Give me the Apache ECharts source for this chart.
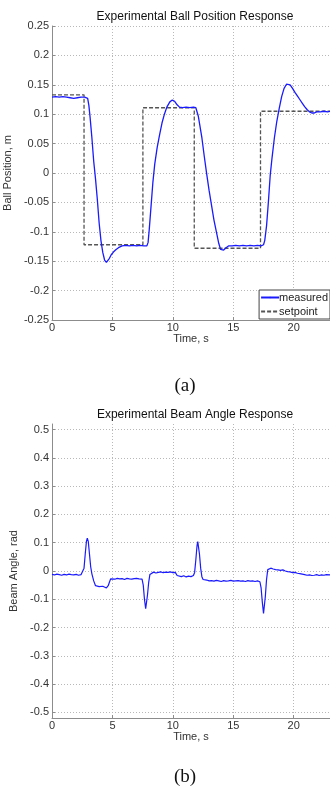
<!DOCTYPE html>
<html><head><meta charset="utf-8">
<script src="https://cdn.jsdelivr.net/npm/echarts@6/dist/echarts.min.js"></script>
<style>html,body{margin:0;padding:0;background:#fff}#c{width:330px;height:796px}</style>
</head><body><div id="c"></div>
<script>
// ---- Data ----
var xTicks = [0, 5, 10, 15, 20];
var posTicks = [-0.25, -0.2, -0.15, -0.1, -0.05, 0, 0.05, 0.1, 0.15, 0.2, 0.25];
var angTicks = [-0.5, -0.4, -0.3, -0.2, -0.1, 0, 0.1, 0.2, 0.3, 0.4, 0.5];

var ballT = [0,0.3,0.6,0.9,1.2,1.5,1.8,2.1,2.4,2.7,2.85,2.95,3.05,3.15,3.3,3.45,3.6,3.75,3.9,4.05,4.2,4.35,4.5,4.6,4.75,4.9,5.1,5.3,5.5,5.8,6.1,6.4,6.7,7.0,7.3,7.6,7.85,7.95,8.05,8.2,8.35,8.5,8.7,8.9,9.1,9.3,9.5,9.75,9.95,10.15,10.35,10.55,10.8,11.1,11.4,11.7,11.9,12.0,12.1,12.2,12.4,12.6,12.8,13.0,13.2,13.4,13.6,13.8,13.95,14.05,14.2,14.4,14.6,14.9,15.2,15.5,15.8,16.1,16.4,16.7,17.0,17.3,17.5,17.6,17.75,17.9,18.05,18.2,18.4,18.6,18.8,19.0,19.2,19.4,19.55,19.7,19.9,20.1,20.3,20.5,20.7,20.9,21.1,21.3,21.5,21.7,21.9,22.2,22.5,22.8,23];
var ballPos = [0.129,0.130,0.129,0.130,0.129,0.128,0.127,0.128,0.129,0.129,0.130,0.127,0.115,0.095,0.06,0.02,-0.01,-0.045,-0.085,-0.115,-0.135,-0.148,-0.152,-0.151,-0.145,-0.139,-0.134,-0.130,-0.127,-0.124,-0.123,-0.124,-0.123,-0.124,-0.123,-0.124,-0.124,-0.118,-0.095,-0.055,-0.015,0.015,0.043,0.065,0.085,0.1,0.112,0.121,0.124,0.122,0.116,0.112,0.111,0.112,0.111,0.112,0.111,0.108,0.097,0.085,0.06,0.028,-0.002,-0.03,-0.055,-0.08,-0.1,-0.12,-0.13,-0.132,-0.131,-0.127,-0.124,-0.124,-0.123,-0.124,-0.123,-0.124,-0.123,-0.124,-0.123,-0.124,-0.122,-0.115,-0.09,-0.05,-0.005,0.025,0.06,0.088,0.11,0.13,0.144,0.151,0.152,0.150,0.144,0.137,0.131,0.125,0.119,0.113,0.108,0.104,0.102,0.102,0.104,0.104,0.105,0.104,0.105];

var spT = [0,2.65,2.65,7.52,7.52,11.77,11.77,17.25,17.25,23];
var spV = [0.133,0.133,-0.122,-0.122,0.111,0.111,-0.128,-0.128,0.105,0.105];

var angT = [0,0.2,0.4,0.6,0.8,1.0,1.2,1.4,1.6,1.8,2.0,2.2,2.4,2.55,2.65,2.75,2.85,2.92,3.0,3.1,3.2,3.3,3.45,3.6,3.75,3.9,4.05,4.2,4.35,4.5,4.65,4.75,4.85,5.0,5.2,5.4,5.6,5.8,6.0,6.2,6.4,6.6,6.8,7.0,7.2,7.45,7.55,7.65,7.75,7.82,7.9,8.0,8.1,8.25,8.4,8.6,8.8,9.0,9.2,9.4,9.6,9.8,10.0,10.2,10.35,10.5,10.7,10.9,11.1,11.3,11.5,11.7,11.8,11.9,12.0,12.06,12.12,12.2,12.3,12.4,12.5,12.6,12.8,13.0,13.2,13.4,13.6,13.8,14.0,14.2,14.4,14.6,14.8,15.0,15.2,15.4,15.6,15.8,16.0,16.2,16.4,16.6,16.8,17.0,17.2,17.3,17.4,17.5,17.56,17.65,17.75,17.85,17.95,18.1,18.3,18.5,18.7,18.9,19.0,19.1,19.3,19.5,19.7,19.9,20.1,20.3,20.5,20.7,20.9,21.1,21.3,21.5,21.7,21.9,22.1,22.3,22.5,22.7,23];
var angV = [-0.012,-0.014,-0.011,-0.013,-0.015,-0.012,-0.014,-0.011,-0.013,-0.014,-0.012,-0.015,-0.013,-0.01,0.01,0.06,0.105,0.116,0.105,0.06,0.015,-0.01,-0.035,-0.052,-0.056,-0.055,-0.058,-0.054,-0.057,-0.06,-0.052,-0.04,-0.028,-0.027,-0.029,-0.026,-0.028,-0.027,-0.030,-0.026,-0.028,-0.029,-0.027,-0.026,-0.028,-0.029,-0.05,-0.1,-0.133,-0.13,-0.085,-0.04,-0.012,-0.006,-0.004,-0.007,-0.005,-0.003,-0.006,-0.004,-0.005,-0.003,-0.006,-0.005,-0.016,-0.018,-0.020,-0.017,-0.021,-0.018,-0.02,-0.016,-0.005,0.04,0.09,0.104,0.098,0.06,0.01,-0.02,-0.03,-0.033,-0.032,-0.035,-0.034,-0.036,-0.033,-0.035,-0.037,-0.034,-0.036,-0.035,-0.033,-0.036,-0.035,-0.034,-0.036,-0.035,-0.037,-0.034,-0.036,-0.035,-0.037,-0.035,-0.038,-0.06,-0.11,-0.15,-0.145,-0.09,-0.03,0.005,0.012,0.01,0.007,0.005,0.004,0.002,0.006,0.004,0.0,-0.002,-0.003,-0.006,-0.005,-0.008,-0.009,-0.011,-0.013,-0.015,-0.014,-0.016,-0.015,-0.013,-0.016,-0.014,-0.015,-0.013,-0.014];

function zip(a, b) { return a.map(function (t, i) { return [t, b[i]]; }); }
function fmt(v) { return String(+(+v).toFixed(2)); }

var FONT = 'Liberation Sans';
var axisTxt = { color: '#333', fontFamily: FONT, fontSize: 11 };
var split = { show: true, lineStyle: { type: [1, 2], color: '#b8b8b8', width: 1 } };
var aLine = { show: true, onZero: false, lineStyle: { color: '#8c8c8c', width: 1 } };

function xAx(gi) {
  return {
    gridIndex: gi, type: 'value', min: 0, max: 23, interval: 5,
    axisLine: aLine, splitLine: split,
    axisTick: { show: true, inside: true, length: 3, lineStyle: { color: '#8c8c8c' } },
    axisLabel: Object.assign({ margin: 2, showMaxLabel: false, formatter: fmt }, axisTxt),
    name: 'Time, s', nameLocation: 'middle', nameGap: 13,
    nameTextStyle: { color: '#333', fontFamily: FONT, fontSize: 11 }
  };
}

var chart = echarts.init(document.getElementById('c'), null, { renderer: 'canvas' });
chart.setOption({
  animation: false,
  backgroundColor: '#fff',
  title: [
    { text: 'Experimental Ball Position Response', left: 190, top: 6, textAlign: 'center',
      textStyle: { fontFamily: FONT, fontSize: 12, fontWeight: 'normal', color: '#111' } },
    { text: '(a)', left: 180, top: 372, textAlign: 'center',
      textStyle: { fontFamily: 'Liberation Serif', fontSize: 19, fontWeight: 'normal', color: '#111' } },
    { text: 'Experimental Beam Angle Response', left: 190, top: 404, textAlign: 'center',
      textStyle: { fontFamily: FONT, fontSize: 12, fontWeight: 'normal', color: '#111' } },
    { text: '(b)', left: 180, top: 763, textAlign: 'center',
      textStyle: { fontFamily: 'Liberation Serif', fontSize: 19, fontWeight: 'normal', color: '#111' } }
  ],
  legend: {
    data: ['measured', 'setpoint'], orient: 'vertical', right: 0, top: 290,
    itemWidth: 18, itemHeight: 2, itemGap: 3, padding: [2, 2, 2, 1],
    backgroundColor: '#fff', borderColor: '#444', borderWidth: 1, borderRadius: 0,
    textStyle: { fontFamily: FONT, fontSize: 11, color: '#222', padding: [0, 0, 0, -5] }
  },
  grid: [
    { left: 52, right: 0, top: 26, bottom: 476, containLabel: false, outerBoundsMode: 'none' },
    { left: 52, right: 0, top: 424, bottom: 78, containLabel: false, outerBoundsMode: 'none' }
  ],
  xAxis: [xAx(0), xAx(1)],
  yAxis: [
    { gridIndex: 0, type: 'value', min: posTicks[0], max: posTicks[posTicks.length - 1], interval: 0.05,
      axisLine: aLine, splitLine: split,
      axisTick: { show: true, inside: true, length: 3, lineStyle: { color: '#8c8c8c' } },
      axisLabel: Object.assign({ margin: 3, formatter: fmt }, axisTxt),
      name: 'Ball Position, m', nameLocation: 'middle', nameRotate: 90, nameGap: 30,
      nameTextStyle: { color: '#333', fontFamily: FONT, fontSize: 11 } },
    { gridIndex: 1, type: 'value', min: -0.52, max: 0.52,
      axisLine: aLine, splitLine: split,
      axisTick: { show: true, inside: true, length: 3, customValues: angTicks, lineStyle: { color: '#8c8c8c' } },
      axisLabel: Object.assign({ margin: 3, customValues: angTicks, formatter: fmt }, axisTxt),
      name: 'Beam Angle, rad', nameLocation: 'middle', nameRotate: 90, nameGap: 24,
      nameTextStyle: { color: '#333', fontFamily: FONT, fontSize: 11 } }
  ],
  series: [
    { name: 'measured', type: 'line', xAxisIndex: 0, yAxisIndex: 0, data: zip(ballT, ballPos),
      showSymbol: false, symbol: 'none', lineStyle: { color: '#1a1aff', width: 1.3 }, itemStyle: { color: '#1a1aff' }, z: 3 },
    { name: 'setpoint', type: 'line', xAxisIndex: 0, yAxisIndex: 0, data: zip(spT, spV),
      showSymbol: false, symbol: 'none', lineStyle: { color: '#555', width: 1.3, type: [4, 2] }, itemStyle: { color: '#555' }, z: 2 },
    { name: 'beam', type: 'line', xAxisIndex: 1, yAxisIndex: 1, data: zip(angT, angV),
      showSymbol: false, symbol: 'none', lineStyle: { color: '#1a1aff', width: 1.2 }, itemStyle: { color: '#1a1aff' } }
  ]
});
</script></body></html>
